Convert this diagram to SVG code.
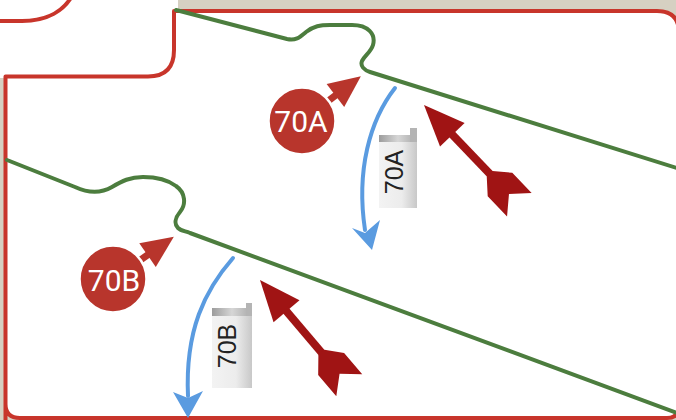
<svg xmlns="http://www.w3.org/2000/svg" xmlns:xlink="http://www.w3.org/1999/xlink" width="676" height="420" viewBox="0 0 676 420">
<style>
.border{fill:#ffffff;stroke:#c8352b;stroke-width:4;stroke-linejoin:round}
.edge{fill:none;stroke:#c8352b;stroke-width:4;stroke-linecap:round}
.green{fill:none;stroke:#4c7d3e;stroke-width:4;stroke-linecap:round;stroke-linejoin:round}
.blue{fill:none;stroke:#5a9be0;stroke-width:4;stroke-linecap:round}
.bluehead{fill:#5a9be0}
.dart{fill:#a01414}
.badge{fill:#b8352c;stroke:#ffffff;stroke-width:2.5}
.badgetxt{font-family:Roboto,"Liberation Sans",sans-serif;font-size:30px;fill:#ffffff;text-anchor:middle}
.tagtxt{font-family:"Liberation Sans",Arial,sans-serif;font-size:25px;fill:#222222;text-anchor:middle}
.tagbody{fill:url(#tagGrad)}
.tagbar{fill:url(#barGrad)}
</style>
<defs>
<linearGradient id="tagGrad" x1="0" y1="0" x2="1" y2="0">
<stop offset="0" stop-color="#f3f3f3"/>
<stop offset="0.6" stop-color="#ececec"/>
<stop offset="1" stop-color="#c8c8c8"/>
</linearGradient>
<linearGradient id="barGrad" x1="0" y1="0" x2="1" y2="0">
<stop offset="0" stop-color="#9c9c9c"/>
<stop offset="0.5" stop-color="#d6d6d6"/>
<stop offset="1" stop-color="#a8a8a8"/>
</linearGradient>
<g id="dart">
<polygon points="0,0 41,-17 41,17"/>
<rect x="38" y="-4" width="62" height="8"/>
<polygon points="95,-4 110,-17 138,-17 123,0 138,17 110,17 95,4"/>
</g>
<g id="badgeArrow" fill="#b8352c">
<rect x="30" y="-3.5" width="14" height="7"/>
<polygon points="42,-14.5 74,0 42,14.5"/>
</g>
</defs>

<rect x="0" y="0" width="676" height="420" fill="#d6d0c2"/>
<rect x="0" y="0" width="178" height="78" fill="#ffffff"/>
<g id="frame">
<path class="border" d="M5.5,430 L5.5,76.5 L148,76.5 Q174,76.5 174,50 L174,11 L657,11 Q679,11 679,33 L679,406 Q679,418 667,418 L20,418 Q5.5,418 5.5,404 Z"/>
<path class="edge" d="M-4,21 L22,21 C48,21 64,10 72,-4"/>
</g>

<g id="connectors">
<path class="green" d="M176,10 L287,39 C296,41 300,37 306,32 C314,26 320,25 330,25 L352,25 C368,25 376,34 373,45 C371,52 365,55 362,61 C360,66 364,70 370,72 L680,169"/>
<path class="green" d="M7,160 L75,187 C88,193 100,194 112,187 C122,181 130,177 143,177 C158,177 168,180 176,186 C186,193 186,205 180,212 C175,218 174,224 178,228 C181,231 185,231 190,233 L680,414"/>
<path class="blue" d="M395,88 C370,120 356,170 365,230"/>
<polygon class="bluehead" points="372,250 352,228 365,233 380,220"/>
<path class="blue" d="M233,258 C205,290 185,330 188,396"/>
<polygon class="bluehead" points="188,418 173,392 188,398 203,391"/>
<use href="#dart" class="dart" transform="translate(424,105) rotate(46.3)"/>
<use href="#dart" class="dart" transform="translate(260,280) rotate(49.7)"/>
</g>

<g id="badge-70A">
<use href="#badgeArrow" transform="translate(302,121) rotate(-37.3)"/>
<circle class="badge" cx="302" cy="121" r="33.5"/>
<text class="badgetxt" x="301" y="132">70A</text>
</g>
<g id="badge-70B">
<use href="#badgeArrow" transform="translate(113,279) rotate(-34.7)"/>
<circle class="badge" cx="113" cy="279" r="33.5"/>
<text class="badgetxt" x="114" y="291">70B</text>
</g>

<g id="label-70A">
<rect class="tagbody" x="379" y="142" width="38" height="66"/>
<rect class="tagbar" x="379" y="135" width="38" height="7"/>
<rect x="410" y="128" width="7" height="14" fill="#b4b4b4"/>
<text class="tagtxt" transform="translate(403,172) rotate(-90)">70A</text>
</g>
<g id="label-70B">
<rect class="tagbody" x="212" y="316" width="40" height="72"/>
<rect class="tagbar" x="212" y="308" width="40" height="8"/>
<rect x="246" y="303" width="6" height="13" fill="#b4b4b4"/>
<text class="tagtxt" transform="translate(236,346) rotate(-90)">70B</text>
</g>
</svg>
